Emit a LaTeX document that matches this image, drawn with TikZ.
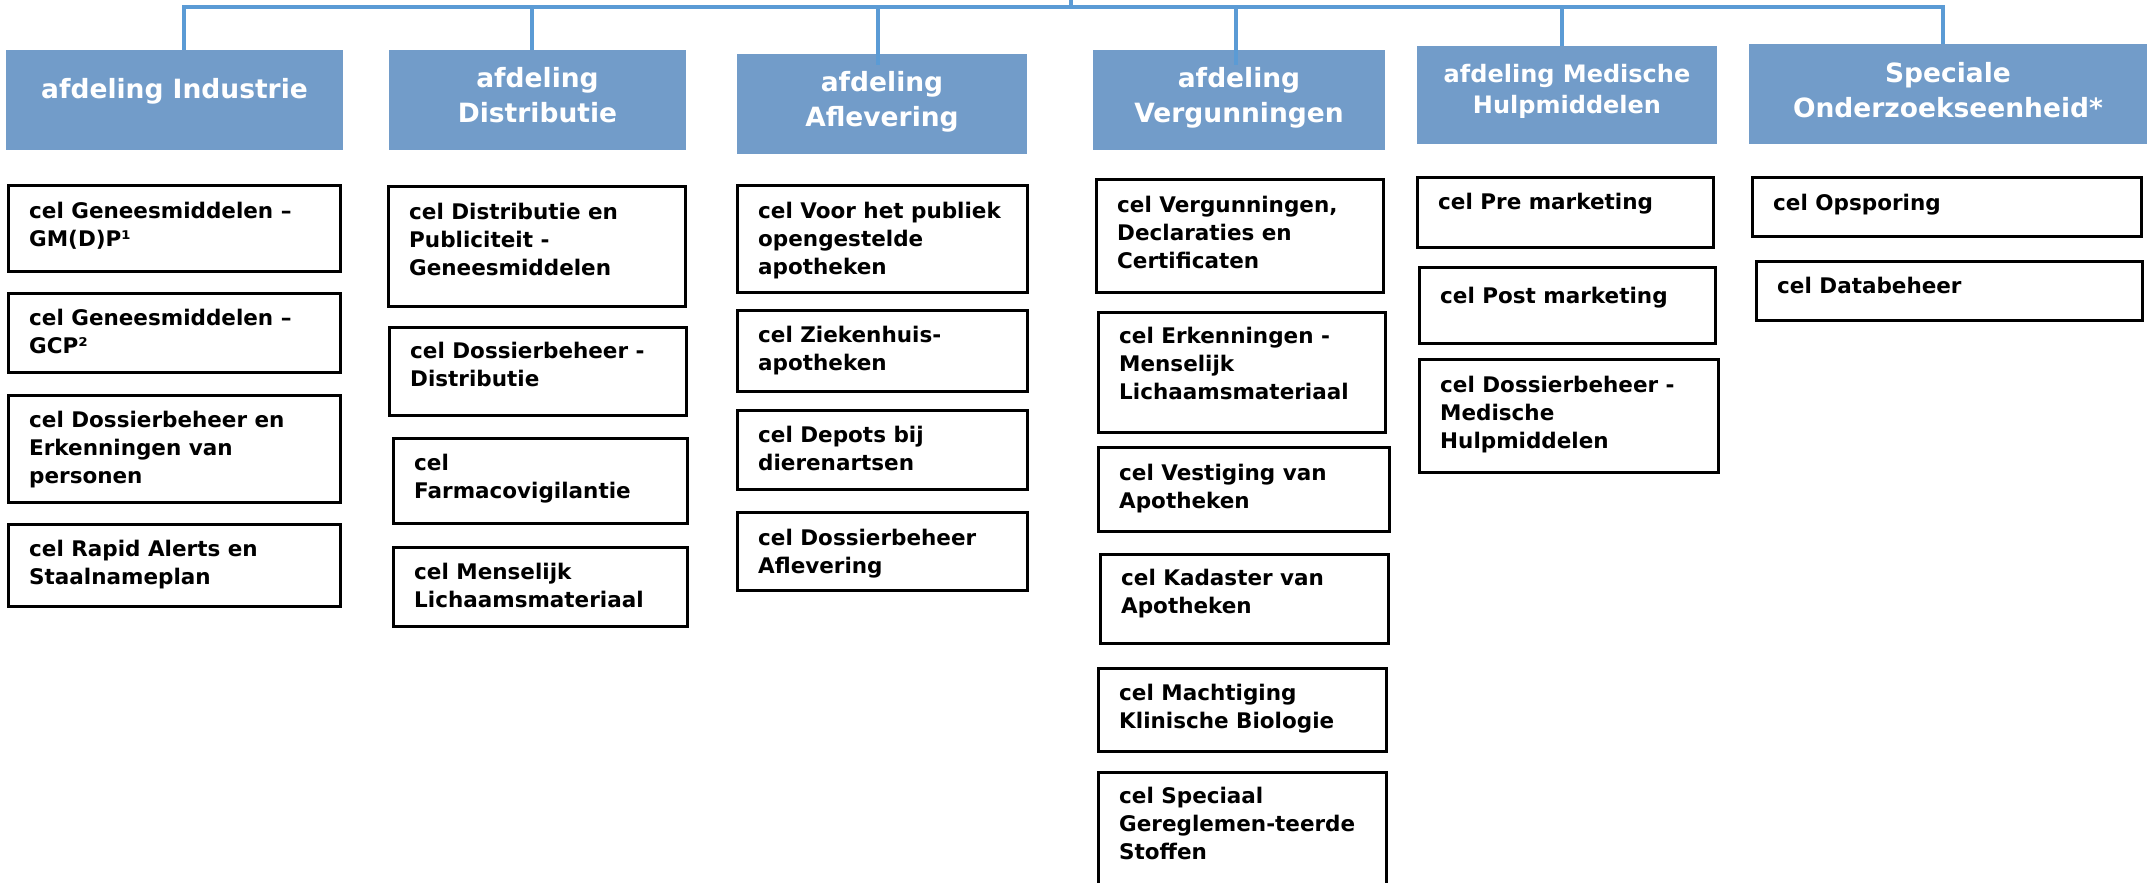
\documentclass[tikz,border=0pt]{standalone}
\usepackage{fontspec}
\setmainfont{DejaVu Sans}
\definecolor{hdrblue}{RGB}{114,156,201}
\definecolor{busblue}{RGB}{91,155,213}
\tikzset{
  hdrbox/.style={fill=hdrblue, draw=none, inner sep=0pt, rectangle},
  hdrtext/.style={text=white, inner sep=0pt, font={\fontsize{26.5pt}{35pt}\selectfont\bfseries}},
  hdrsmall/.style={font={\fontsize{24pt}{31pt}\selectfont\bfseries}},
  cellbox/.style={draw=black, line width=3pt, fill=white, inner sep=0pt, rectangle},
  celltext/.style={text=black, inner sep=0pt, font={\fontsize{21.5pt}{28pt}\selectfont\bfseries}},
  bus/.style={draw=busblue, line width=4.5pt},
}
\newcommand\mkcell[7]{%
  \node[cellbox, minimum width={#4-#2}, minimum height={#5-#3}] (#1) at ({(#2+#4)/2},{(#3+#5)/2}) {};%
  \node[celltext, anchor=base west] (#1t) at ({#2+21},{#3+#6}) {\parbox[t]{400pt}{\raggedright #7}};%
}
\newcommand\hdrlabel[6][]{%
  \node[hdrtext, #1, anchor=base] (#2t) at ({(#3+#4)/2},{#5}) {\parbox[t]{420pt}{\centering #6}};%
}
\begin{document}
\begin{tikzpicture}[x=1pt,y=-1pt]
\useasboundingbox (0,0) rectangle (2152,883);
\clip (0,0) rectangle (2152,883);

% header boxes
\node[hdrbox, minimum width=337pt, minimum height=100pt] (hInd) at (174.5,100) {};
\node[hdrbox, minimum width=297pt, minimum height=100pt] (hDist) at (537.5,100) {};
\node[hdrbox, minimum width=290pt, minimum height=100pt] (hAfl) at (882,104) {};
\node[hdrbox, minimum width=292pt, minimum height=100pt] (hVerg) at (1239,100) {};
\node[hdrbox, minimum width=300pt, minimum height=98pt] (hMed) at (1567,95) {};
\node[hdrbox, minimum width=398pt, minimum height=100pt] (hSpec) at (1948,94) {};

% header texts
\hdrlabel{hInd}{6}{343}{99}{afdeling Industrie}
\hdrlabel{hDist}{389}{686}{88}{afdeling\\Distributie}
\hdrlabel{hAfl}{737}{1027}{92}{afdeling\\Aflevering}
\hdrlabel{hVerg}{1093}{1385}{88}{afdeling\\Vergunningen}
\hdrlabel[hdrsmall]{hMed}{1417}{1717}{82}{afdeling Medische\\Hulpmiddelen}
\hdrlabel{hSpec}{1749}{2147}{82}{Speciale\\Onderzoekseenheid*}

% cells: afdeling Industrie
\mkcell{c1}{8}{185}{340}{271}{33}{cel Geneesmiddelen –\\GM(D)P¹}
\mkcell{c2}{8}{293}{340}{372}{32}{cel Geneesmiddelen –\\GCP²}
\mkcell{c3}{8}{395}{340}{502}{32}{cel Dossierbeheer en\\Erkenningen van\\personen}
\mkcell{c4}{8}{524}{340}{606}{32}{cel Rapid Alerts en\\Staalnameplan}
% Distributie
\mkcell{d1}{388}{186}{685}{306}{33}{cel Distributie en\\Publiciteit -\\Geneesmiddelen}
\mkcell{d2}{389}{327}{686}{415}{31}{cel Dossierbeheer -\\Distributie}
\mkcell{d3}{393}{438}{687}{523}{32}{cel\\Farmacovigilantie}
\mkcell{d4}{393}{547}{687}{626}{32}{cel Menselijk\\Lichaamsmateriaal}
% Aflevering
\mkcell{a1}{737}{185}{1027}{292}{33}{cel Voor het publiek\\opengestelde\\apotheken}
\mkcell{a2}{737}{310}{1027}{391}{32}{cel Ziekenhuis-\\apotheken}
\mkcell{a3}{737}{410}{1027}{489}{32}{cel Depots bij\\dierenartsen}
\mkcell{a4}{737}{512}{1027}{590}{33}{cel Dossierbeheer\\Aflevering}
% Vergunningen
\mkcell{v1}{1096}{179}{1383}{292}{33}{cel Vergunningen,\\Declaraties en\\Certificaten}
\mkcell{v2}{1098}{312}{1385}{432}{31}{cel Erkenningen -\\Menselijk\\Lichaamsmateriaal}
\mkcell{v3}{1098}{447}{1389}{531}{33}{cel Vestiging van\\Apotheken}
\mkcell{v4}{1100}{554}{1388}{643}{31}{cel Kadaster van\\Apotheken}
\mkcell{v5}{1098}{668}{1386}{751}{32}{cel Machtiging\\Klinische Biologie}
\mkcell{v6}{1098}{772}{1386}{900}{31}{cel Speciaal\\Gereglemen-teerde\\Stoffen}
% Medische Hulpmiddelen
\mkcell{m1}{1417}{177}{1713}{247}{32}{cel Pre marketing}
\mkcell{m2}{1419}{267}{1715}{343}{36}{cel Post marketing}
\mkcell{m3}{1419}{359}{1718}{472}{33}{cel Dossierbeheer -\\Medische\\Hulpmiddelen}
% Speciale Onderzoekseenheid
\mkcell{s1}{1752}{177}{2141}{236}{33}{cel Opsporing}
\mkcell{s2}{1756}{261}{2142}{320}{32}{cel Databeheer}

% connectors
\coordinate (root) at (1071,-5);
\coordinate (rootJ) at (1071,7);
\coordinate (bInd) at (184,7);
\coordinate (bDist) at (532,7);
\coordinate (bAfl) at (878,7);
\coordinate (bVerg) at (1236,7);
\coordinate (bMed) at (1562,7);
\coordinate (bSpec) at (1943,7);
\draw[bus] (root) -- (rootJ);
\draw[bus, line join=miter] (bInd |- hInd.north) -- (bInd) -- (bSpec) -- (bSpec |- hSpec.north);
\draw[bus] (bDist) -- (bDist |- hDist.north);
\draw[bus] (bAfl) -- ([yshift=-11pt]bAfl |- hAfl.north);
\draw[bus] (bVerg) -- ([yshift=-15pt]bVerg |- hVerg.north);
\draw[bus] (bMed) -- (bMed |- hMed.north);
\end{tikzpicture}
\end{document}
